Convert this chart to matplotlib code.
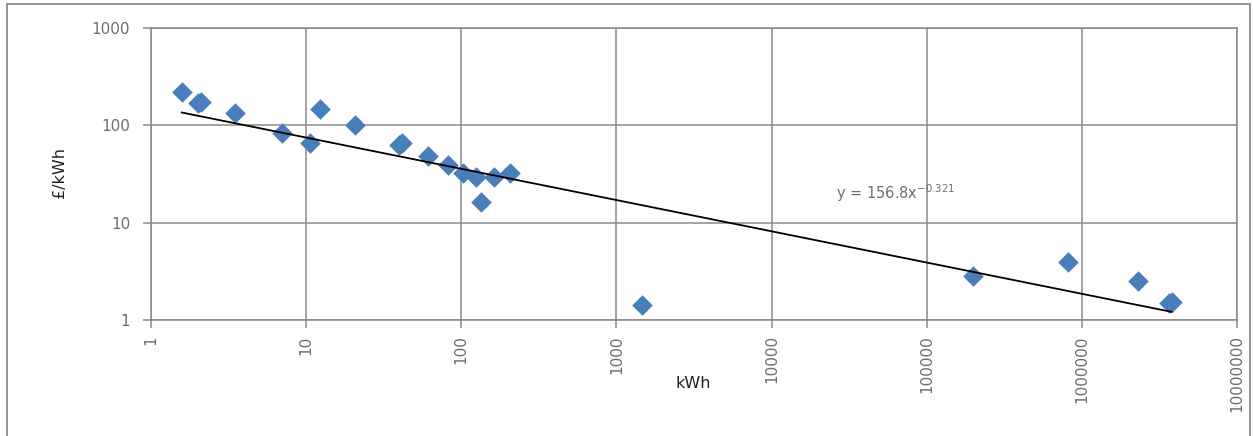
import matplotlib
matplotlib.use("Agg")
import matplotlib.pyplot as plt
import numpy as np
from matplotlib.patches import Rectangle

# Data
kwh = [1.58, 2.0, 2.1, 3.48, 6.96, 10.6, 12.2, 20.5, 39.5, 41.5, 60.8, 81.8, 102, 124,
       134, 163, 206, 1458, 198600, 820000, 2290000, 3650000, 3800000]
price = [222, 168, 172, 135, 83, 65.5, 147, 101, 63, 65.5, 48.5, 39.2, 32.6, 29.3,
         16.4, 29.3, 32.2, 1.42, 2.83, 3.95, 2.52, 1.48, 1.53]

# Power trend line coefficients (shown on chart)
trend_a = 156.8
trend_b = -0.321

xticks = [1, 10, 100, 1000, 10000, 100000, 1000000, 10000000]
xtick_labels = ["1", "10", "100", "1000", "10000", "100000", "1000000", "10000000"]
yticks = [1, 10, 100, 1000]
ytick_labels = ["1", "10", "100", "1000"]

W, H = 1253, 436
fig = plt.figure(figsize=(W / 100, H / 100), dpi=100)
ax = fig.add_axes([151 / W, 1 - 320 / H, (1237 - 151) / W, (320 - 28) / H])

grid_c = "#8a8a8a"
ax.set_xscale("log")
ax.set_yscale("log")
ax.set_xlim(1, 1e7)
ax.set_ylim(1, 1000)

ax.set_xticks(xticks)
ax.set_xticklabels(xtick_labels, rotation=90, va="top", ha="center")
ax.set_yticks(yticks)
ax.set_yticklabels(ytick_labels)
ax.minorticks_off()
ax.tick_params(axis="both", colors=grid_c, length=6, width=1.1, direction="out",
               labelsize=11, labelcolor="#6e6e6e")
ax.tick_params(axis="y", pad=9)
ax.tick_params(axis="x", pad=5)

ax.grid(True, which="major", color=grid_c, linewidth=1.1)
ax.set_axisbelow(True)
for sp in ax.spines.values():
    sp.set_color(grid_c)
    sp.set_linewidth(1.1)

ax.scatter(kwh, price, marker="D", s=110, color="#4a7ebb", zorder=3, linewidths=0)

xt = np.logspace(np.log10(min(kwh)), np.log10(max(kwh)), 50)
ax.plot(xt, trend_a * xt ** trend_b, color="black", linewidth=1.3, zorder=4)

ax.text(2.6e4, 20, "y = 156.8x$^{\\mathregular{-0.321}}$", fontsize=10.5, color="#707070",
        va="center", ha="left")

fig.text(60 / W, 1 - 172 / H, "£/kWh", rotation=90, ha="center", va="center",
         fontsize=11.5, color="#222222")
fig.text(693 / W, 1 - 383 / H, "kWh", ha="center", va="center",
         fontsize=11.5, color="#222222")

frame = Rectangle((7 / W, -0.05), (1250 - 7) / W, 1.05 - 4.5 / H, transform=fig.transFigure,
                  fill=False, edgecolor="#8c8c8c", linewidth=1.3, clip_on=False)
fig.add_artist(frame)

fig.savefig("out.png", dpi=100, facecolor="white")
